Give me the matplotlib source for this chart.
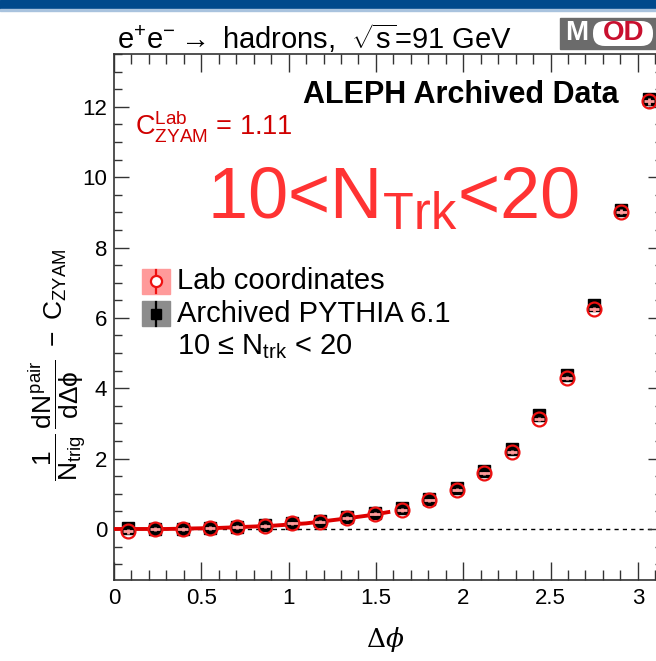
import matplotlib
matplotlib.use("Agg")
import matplotlib.pyplot as plt
from matplotlib.patches import Rectangle, FancyBboxPatch
from matplotlib.lines import Line2D
import numpy as np

plt.rcParams["font.family"] = ["Liberation Sans", "DejaVu Sans"]
plt.rcParams["mathtext.fontset"] = "custom"
plt.rcParams["mathtext.rm"] = "Liberation Sans"
plt.rcParams["mathtext.it"] = "Liberation Sans"
plt.rcParams["mathtext.sf"] = "Liberation Sans"

# data: bin centres in delta phi (20 bins over 0..pi)
dphi = [0.079, 0.236, 0.393, 0.550, 0.707, 0.864, 1.021, 1.178, 1.335, 1.492,
        1.649, 1.806, 1.963, 2.121, 2.278, 2.435, 2.592, 2.749, 2.906, 3.063]
pythia = [0.02, 0.01, 0.01, 0.04, 0.06, 0.11, 0.18, 0.24, 0.33, 0.46,
          0.60, 0.84, 1.17, 1.64, 2.26, 3.25, 4.38, 6.38, 9.07, 12.22]
lab = [-0.07, 0.00, 0.00, 0.03, 0.05, 0.09, 0.16, 0.21, 0.31, 0.44,
       0.54, 0.81, 1.12, 1.58, 2.19, 3.12, 4.30, 6.25, 9.02, 12.15]
lab_err = [0.06, 0.05, 0.05, 0.05, 0.05, 0.05, 0.05, 0.05, 0.05, 0.05,
           0.05, 0.05, 0.05, 0.05, 0.06, 0.06, 0.06, 0.07, 0.08, 0.09]

# red curve over the near side
fit_x = [0.0, 0.3, 0.6, 0.9, 1.1, 1.3, 1.45, 1.571]
fit_y = [0.0, 0.0, 0.03, 0.09, 0.16, 0.28, 0.38, 0.48]

W, H = 656, 661
fig = plt.figure(figsize=(W / 100, H / 100), dpi=100)


def px(x, y):
    return x / W, 1 - y / H


# slide header bar
fig.add_artist(Rectangle((0, 1 - 9 / H), 1, 9 / H, transform=fig.transFigure,
                         color="#00498c", zorder=5))
fig.add_artist(Rectangle((0, 1 - 11 / H), 1, 2 / H, transform=fig.transFigure,
                         color="#a9c3de", zorder=5))

ax = fig.add_axes([114 / W, 1 - 580 / H, 548.6 / W, 526 / H])
ax.set_xlim(0, np.pi)
ax.set_ylim(-1.45, 13.5)

ax.axhline(0, color="black", ls=(0, (3, 3)), lw=1.0, zorder=1)
ax.plot(fit_x, fit_y, color="#dd0000", lw=2.8, zorder=3)

ax.errorbar(dphi, pythia, xerr=0.035, fmt="s", color="black", ms=8.5,
            elinewidth=1.2, capsize=0, zorder=4)
ax.errorbar(dphi, lab, yerr=lab_err, xerr=0.03, fmt="none", ecolor="#ff9a9a",
            elinewidth=2, capsize=0, zorder=5)
ax.plot(dphi, lab, "o", mfc="none", mec="#ee1111", ms=10, mew=1.6, zorder=6)

ax.set_xticks([0, 0.5, 1, 1.5, 2, 2.5, 3])
ax.set_xticklabels(["0", "0.5", "1", "1.5", "2", "2.5", "3"])
ax.set_xticks(np.arange(0, 3.15, 0.1), minor=True)
ax.set_yticks([0, 2, 4, 6, 8, 10, 12])
ax.set_yticks(np.arange(-1.0, 13.6, 0.5), minor=True)
ax.tick_params(which="both", direction="in", top=True, right=True,
               labelsize=16, color="#333333", width=1.0)
ax.tick_params(axis="x", which="major", length=13, pad=6)
ax.tick_params(axis="x", which="minor", length=7)
ax.tick_params(axis="y", which="major", length=11, pad=5)
ax.tick_params(axis="y", which="minor", length=6)
for s in ax.spines.values():
    s.set_linewidth(1.2)
    s.set_color("#333333")

# axis titles
fig.text(*px(385, 640), r"$\Delta\phi$", fontsize=19, ha="center", va="center",
         math_fontfamily="dejavuserif")
fig.text(*px(58, 365),
         r"$\dfrac{1}{N_{\rm trig}}\,\dfrac{dN^{\rm pair}}{d\Delta\phi}\ -\ C_{\rm ZYAM}$",
         fontsize=19, rotation=90, ha="center", va="center")

# title
fig.text(*px(314, 38), r"e$^{+}$e$^{-}\rightarrow$ hadrons,  $\sqrt{\rm s}$=91 GeV",
         fontsize=21, ha="center", va="center")

# MOD logo
fig.add_artist(Rectangle(px(560, 49), 96 / W, 31 / H, transform=fig.transFigure,
                         color="#6b6b6b", zorder=6))
fig.add_artist(FancyBboxPatch(px(593, 46), 60 / W, 25 / H, transform=fig.transFigure,
                              boxstyle="round,pad=0,rounding_size=0.018",
                              fc="white", ec="none", zorder=7))
fig.text(*px(577, 33), "M", color="white", fontsize=20, fontweight="bold",
         ha="center", va="center", zorder=8)
fig.text(*px(624, 33), "OD", color="#c8102e", fontsize=20, fontweight="bold",
         ha="center", va="center", zorder=8)

# annotations
fig.text(*px(461, 95), "ALEPH Archived Data", fontsize=22, fontweight="bold",
         ha="center", va="center")
fig.text(*px(135, 126), r"C$^{\rm Lab}_{\rm ZYAM}$ = 1.11", color="#d00000",
         fontsize=19.5, ha="left", va="center")
fig.text(*px(393, 200), r"10<N$_{\rm Trk}$<20", color="#ff3333",
         fontsize=52, ha="center", va="center")

# legend
fig.add_artist(Rectangle(px(142, 294), 28 / W, 25 / H, transform=fig.transFigure,
                         color="#ff9a9a", zorder=6))
fig.add_artist(Line2D([156 / W, 156 / W], [1 - 270 / H, 1 - 293 / H],
                      transform=fig.transFigure, color="#ee1111", lw=1.6, zorder=7))
fig.add_artist(Line2D([156 / W], [1 - 281 / H], transform=fig.transFigure,
                      marker="o", mfc="white", mec="#ee1111", ms=8, mew=1.6, zorder=8))
fig.add_artist(Rectangle(px(142, 326), 28 / W, 25 / H, transform=fig.transFigure,
                         color="#8c8c8c", zorder=6))
fig.add_artist(Line2D([156 / W, 156 / W], [1 - 302 / H, 1 - 326 / H],
                      transform=fig.transFigure, color="black", lw=1.6, zorder=7))
fig.add_artist(Line2D([156 / W], [1 - 314 / H], transform=fig.transFigure,
                      marker="s", color="black", ms=7, zorder=8))
fig.text(*px(177, 281), "Lab coordinates", fontsize=21, ha="left", va="center")
fig.text(*px(177, 314), "Archived PYTHIA 6.1", fontsize=21, ha="left", va="center")
fig.text(*px(177, 347), "10 \u2264 N$_{\\rm trk}$ < 20", fontsize=21,
         ha="left", va="center")

fig.savefig("out.png", dpi=100)
